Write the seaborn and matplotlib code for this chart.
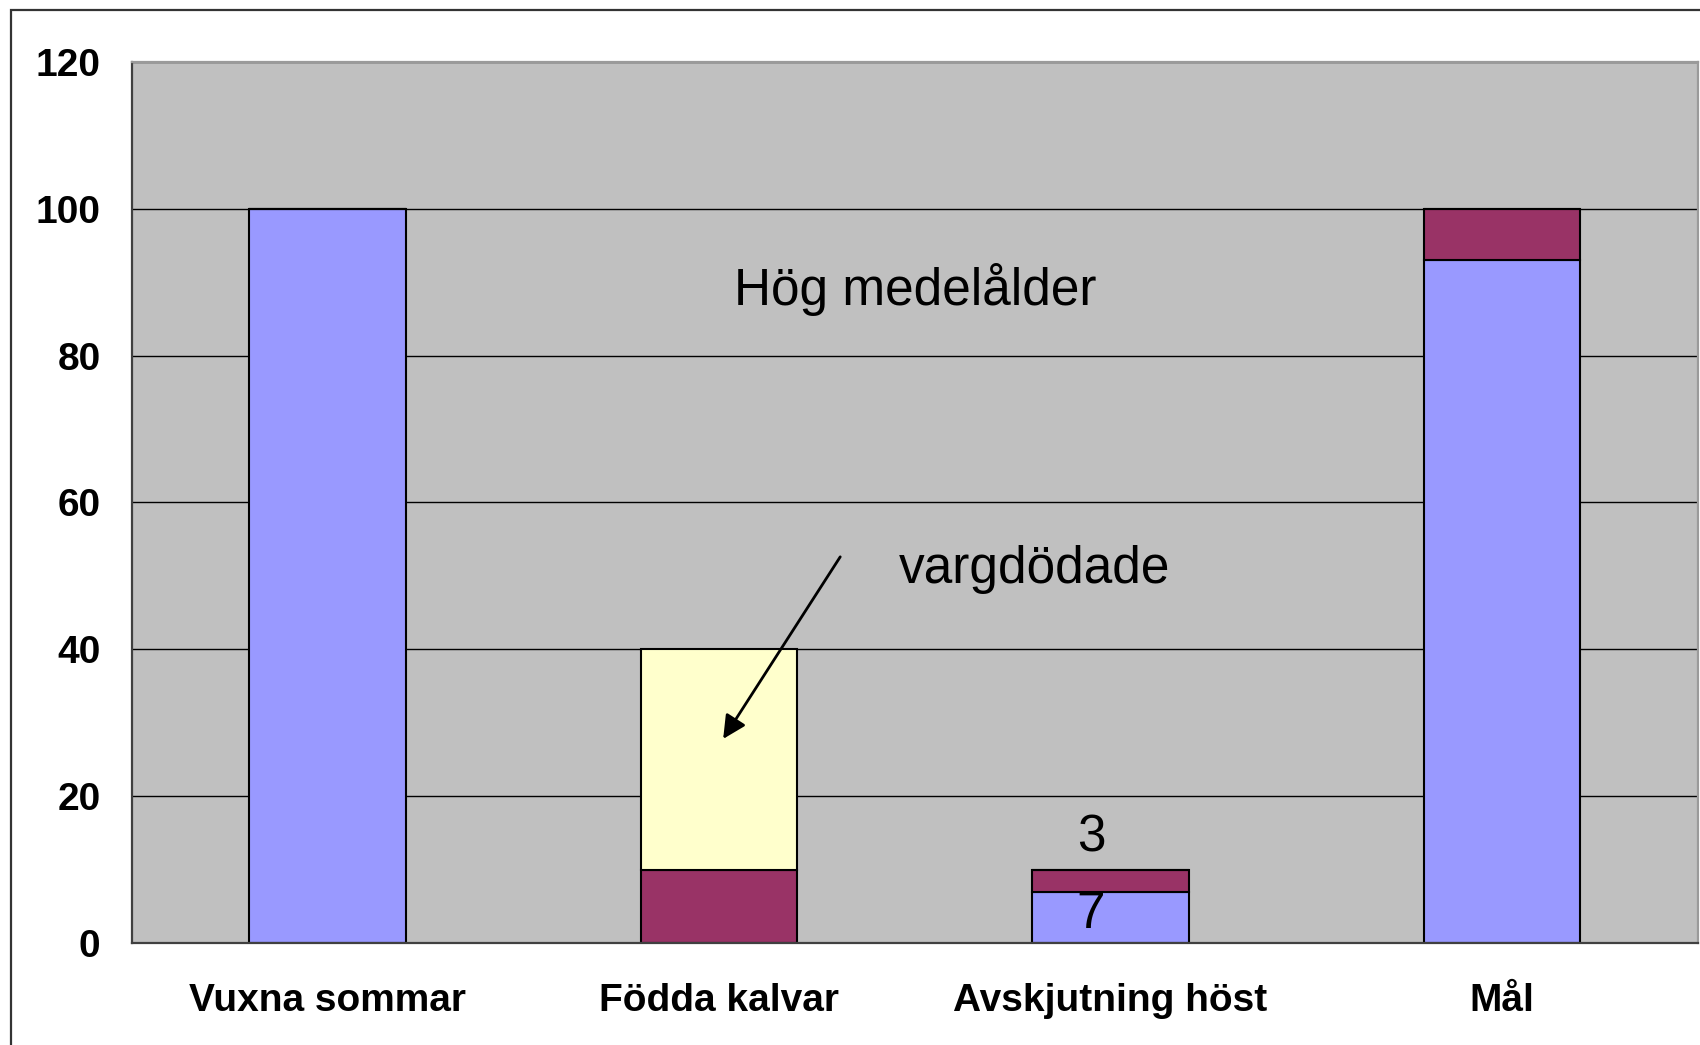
import matplotlib
matplotlib.use("Agg")
import matplotlib.pyplot as plt
from matplotlib.patches import Rectangle
import pandas as pd
import seaborn as sns

# Herd composition per stage (number of animals)
categories = ["Vuxna sommar", "Födda kalvar", "Avskjutning höst", "Mål"]
adults = [100, 0, 7, 93]        # bottom segment (blue)
calves = [0, 10, 3, 7]          # middle segment (maroon)
wolf_killed = [0, 30, 0, 0]     # top segment (light yellow)
y_ticks = [0, 20, 40, 60, 80, 100, 120]

BLUE = "#9999FF"
MAROON = "#993366"
YELLOW = "#FFFFCC"
PLOT_BG = "#C0C0C0"

sns.set_style("white")
plt.rcParams["font.family"] = ["Liberation Sans", "DejaVu Sans"]
plt.rcParams["text.color"] = "black"
plt.rcParams["xtick.labelcolor"] = "black"
plt.rcParams["ytick.labelcolor"] = "black"

fig = plt.figure(figsize=(17, 10.45), dpi=100)
ax = fig.add_axes([132 / 1700, 1 - 943 / 1045, 1565.5 / 1700, 881 / 1045])
ax.set_facecolor(PLOT_BG)

# Stacked bars: each layer sits on the running total of the layers below
bottom = [0] * len(categories)
for values, col in [(adults, BLUE), (calves, MAROON), (wolf_killed, YELLOW)]:
    df = pd.DataFrame({"stage": categories, "count": values})
    sns.barplot(data=df, x="stage", y="count", color=col, saturation=1,
                width=0.4, edgecolor="black", linewidth=1.5,
                bottom=bottom, ax=ax, zorder=2)
    bottom = [b + v for b, v in zip(bottom, values)]

ax.set_xlabel("")
ax.set_ylabel("")
ax.set_xlim(-0.5, len(categories) - 0.5)
ax.set_ylim(y_ticks[0], y_ticks[-1])
ax.set_yticks(y_ticks)

# Gridlines and frame
ax.set_axisbelow(True)
ax.yaxis.grid(True, color="black", linewidth=1)
ax.xaxis.grid(False)
for side in ["left", "bottom"]:
    ax.spines[side].set_color("#404040")
    ax.spines[side].set_linewidth(1.6)
for side in ["top", "right"]:
    ax.spines[side].set_color("#9A9A9A")
    ax.spines[side].set_linewidth(1.6)

ax.tick_params(axis="y", which="major", direction="out", length=8.6, width=1,
               color="black", labelcolor="black", pad=14, labelsize=28)
ax.tick_params(axis="x", which="major", length=0, pad=29, labelsize=28,
               labelcolor="black")
ax.set_xticks([i - 0.5 for i in range(len(categories) + 1)], minor=True)
ax.tick_params(axis="x", which="minor", direction="out", length=8.6, width=1.2,
               color="#404040")
for lbl in ax.get_xticklabels() + ax.get_yticklabels():
    lbl.set_fontweight("bold")

# Annotations
ax.text(1.5, 86.9, "Hög medelålder", ha="center", va="baseline", fontsize=37,
        color="black", zorder=5)
ax.text(1.807, 49.0, "vargdödade", ha="center", va="baseline", fontsize=37,
        color="black", zorder=5)
ax.annotate("", xy=(1.0105, 27.8), xytext=(1.3096, 52.6),
            arrowprops=dict(arrowstyle="-|>", color="black", lw=2,
                            mutation_scale=35, shrinkA=0, shrinkB=0),
            zorder=5)
ax.text(1.95, bottom[2] + 2.4, f"{calves[2]}", ha="center", va="baseline",
        fontsize=37, color="black", zorder=5)
ax.text(1.95, 2.0, f"{adults[2]}", ha="center", va="baseline",
        fontsize=37, color="black", zorder=5)

# Outer chart border
fig.add_artist(Rectangle((11 / 1700, -0.1), 1.2, 1.1 - 10 / 1045,
                         transform=fig.transFigure, fill=False,
                         edgecolor="#333333", linewidth=1.6))

fig.savefig("out.png", dpi=100, facecolor="white")
